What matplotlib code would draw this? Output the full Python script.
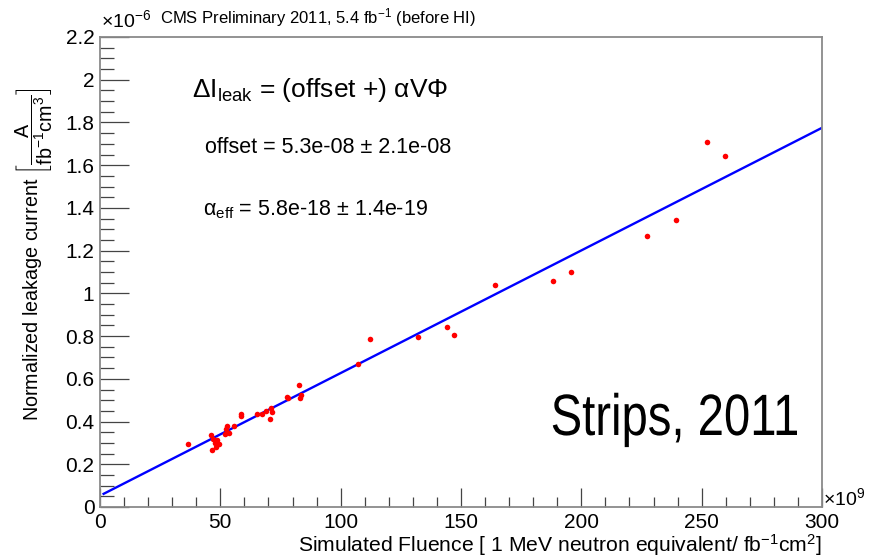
import numpy as np
import matplotlib.pyplot as plt
from matplotlib.ticker import MultipleLocator, FixedLocator, FixedFormatter
from matplotlib.textpath import TextPath
from matplotlib.patches import PathPatch
from matplotlib.font_manager import FontProperties
from matplotlib.transforms import Affine2D

plt.rcParams['font.family'] = ['Liberation Sans', 'DejaVu Sans']
plt.rcParams['mathtext.fontset'] = 'custom'
plt.rcParams['mathtext.rm'] = 'Liberation Sans'
plt.rcParams['mathtext.it'] = 'Liberation Sans:italic'
plt.rcParams['mathtext.bf'] = 'Liberation Sans:bold'

# simulated fluence per module group [1e9 / fb^-1 cm^2]
fluence = [36.7, 46.1, 46.4, 47.1, 47.7, 48.2, 48.8, 49.5, 52.0, 52.4, 52.8, 53.8,
           55.7, 58.7, 58.7, 65.4, 67.3, 69.1, 70.9, 71.5, 70.5, 77.9, 78.2,
           82.8, 83.4, 83.1, 107.4, 112.2, 132.2, 144.2, 147.1, 164.2, 188.3,
           195.8, 227.4, 239.4, 252.3, 259.8]
# normalized leakage current [1e-6 A / fb^-1 cm^3]
current = [0.293, 0.337, 0.265, 0.317, 0.301, 0.282, 0.314, 0.296, 0.340, 0.365,
           0.381, 0.348, 0.381, 0.434, 0.425, 0.437, 0.434, 0.448, 0.463, 0.443,
           0.412, 0.516, 0.510, 0.570, 0.526, 0.512, 0.669, 0.787, 0.796, 0.843,
           0.805, 1.039, 1.058, 1.100, 1.269, 1.344, 1.709, 1.643]

# linear fit: offset + alpha * fluence (in plot units)
fit_offset = 0.053
fit_slope = 0.00574

ytick_vals = [0, 0.2, 0.4, 0.6, 0.8, 1.0, 1.2, 1.4, 1.6, 1.8, 2.0, 2.2]
ytick_text = ['0', '0.2', '0.4', '0.6', '0.8', '1', '1.2', '1.4', '1.6', '1.8', '2', '2.2']
xtick_vals = [0, 50, 100, 150, 200, 250, 300]
xtick_text = ['0', '50', '100', '150', '200', '250', '300']

W, H = 871, 557
fig = plt.figure(figsize=(W / 100, H / 100), dpi=100)
ax = fig.add_axes([100 / W, 50 / H, 722 / W, 470 / H])

fx = np.linspace(1.5, 300, 300)
ax.plot(fx, fit_offset + fit_slope * fx, color='#0000ff', lw=1.7, zorder=2)
ax.scatter(fluence, current, s=16, color='#ff0000', linewidths=0, zorder=3)

ax.set_xlim(0, 300)
ax.set_ylim(0, 2.2)

ax.xaxis.set_major_locator(FixedLocator(xtick_vals))
ax.xaxis.set_major_formatter(FixedFormatter(xtick_text))
ax.xaxis.set_minor_locator(MultipleLocator(10))
ax.yaxis.set_major_locator(FixedLocator(ytick_vals))
ax.yaxis.set_major_formatter(FixedFormatter(ytick_text))
ax.yaxis.set_minor_locator(MultipleLocator(0.05))

ax.tick_params(which='both', direction='in', top=False, right=False,
               color='#444444', width=0.9, labelsize=15)
ax.tick_params(axis='x', which='major', length=14, pad=4)
ax.tick_params(axis='x', which='minor', length=7)
ax.tick_params(axis='y', which='major', length=21, pad=4)
ax.tick_params(axis='y', which='minor', length=10)

for sp in ax.spines.values():
    sp.set_color('#8a8a8a')
    sp.set_linewidth(1.3)

# exponent labels, ROOT style
fig.text(101 / W, 1 - 27 / H, r'$\times$10$^{-6}$', fontsize=14, ha='left', va='baseline')
fig.text(823 / W, 1 - 505 / H, r'$\times$10$^{9}$', fontsize=14, ha='left', va='baseline')
fig.text(160 / W, 1 - 23 / H, r'CMS Preliminary 2011, 5.4 fb$^{-1}$ (before HI)',
         fontsize=12, ha='left', va='baseline')

fig.text(822 / W, 1 - 545 / H,
         r'Simulated Fluence [ 1 MeV neutron equivalent/ fb$^{-1}$cm$^{2}$]',
         fontsize=15.2, ha='right', va='center')
fig.text(34 / W, 1 - 254 / H,
         r'Normalized leakage current $\left[\dfrac{\mathrm{A}}{\mathrm{fb^{-1}cm^{3}}}\right]$',
         fontsize=14.2, rotation=90, ha='center', va='center')

# fit formula and parameters
fig.text(192 / W, 1 - 97 / H, r'ΔI$_{\mathrm{leak}}$ = (offset +) αVΦ',
         fontsize=19, ha='left', va='baseline')
fig.text(205 / W, 1 - 153 / H, 'offset = 5.3e-08 ± 2.1e-08',
         fontsize=15.5, ha='left', va='baseline')
fig.text(203 / W, 1 - 215 / H, r'α$_{\mathrm{eff}}$ = 5.8e-18 ± 1.4e-19',
         fontsize=15.5, ha='left', va='baseline')

# big condensed label, drawn as a squeezed text path (pixel units)
sx = 0.81
tp = TextPath((0, 0), 'Strips, 2011', size=42 * 100 / 72,
              prop=FontProperties(family='Liberation Sans'))
ext = tp.get_extents()
tr = (Affine2D().scale(sx, 1).translate(797 - ext.x1 * sx, H - 435)
      + Affine2D().scale(1 / W, 1 / H) + fig.transFigure)
fig.add_artist(PathPatch(tp, transform=tr, facecolor='black', lw=0))

fig.savefig('out.png', dpi=100)
